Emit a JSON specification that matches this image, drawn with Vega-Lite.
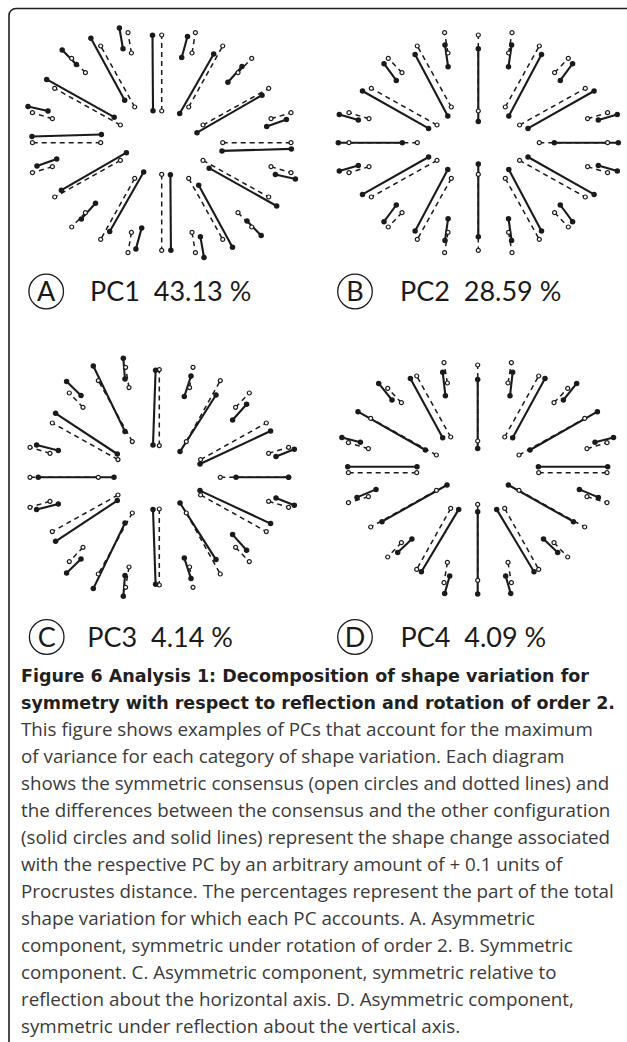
{
"$schema": "https://vega.github.io/schema/vega-lite/v6.json",
"width": 627, "height": 1042, "autosize": "none", "padding": 0, "background": "white",
"config": {"view": {"stroke": null}},
"datasets": {
"consensus": [
{"s":0,"x1":61,"y1":0,"x2":129.3,"y2":0},
{"s":15,"x1":109.3,"y1":24,"x2":129.3,"y2":30},
{"s":30,"x1":41.3,"y1":17.7,"x2":107,"y2":54.3},
{"s":45,"x1":76.3,"y1":70,"x2":90,"y2":84.3},
{"s":60,"x1":27,"y1":35.7,"x2":61,"y2":96.7},
{"s":75,"x1":30.3,"y1":89.7,"x2":33.7,"y2":110},
{"s":90,"x1":0,"y1":31.7,"x2":0,"y2":107.7},
{"s":105,"x1":-30.3,"y1":89.7,"x2":-33.7,"y2":110},
{"s":120,"x1":-27,"y1":35.7,"x2":-61,"y2":96.7},
{"s":135,"x1":-76.3,"y1":70,"x2":-90,"y2":84.3},
{"s":150,"x1":-41.3,"y1":17.7,"x2":-107,"y2":54.3},
{"s":165,"x1":-109.3,"y1":24,"x2":-129.3,"y2":30},
{"s":180,"x1":-61,"y1":0,"x2":-129.3,"y2":0},
{"s":195,"x1":-109.3,"y1":-24,"x2":-129.3,"y2":-30},
{"s":210,"x1":-41.3,"y1":-17.7,"x2":-107,"y2":-54.3},
{"s":225,"x1":-76.3,"y1":-70,"x2":-90,"y2":-84.3},
{"s":240,"x1":-27,"y1":-35.7,"x2":-61,"y2":-96.7},
{"s":255,"x1":-30.3,"y1":-89.7,"x2":-33.7,"y2":-110},
{"s":270,"x1":0,"y1":-31.7,"x2":0,"y2":-107.7},
{"s":285,"x1":30.3,"y1":-89.7,"x2":33.7,"y2":-110},
{"s":300,"x1":27,"y1":-35.7,"x2":61,"y2":-96.7},
{"s":315,"x1":76.3,"y1":-70,"x2":90,"y2":-84.3},
{"s":330,"x1":41.3,"y1":-17.7,"x2":107,"y2":-54.3},
{"s":345,"x1":109.3,"y1":-24,"x2":129.3,"y2":-30}
],
"shapes": [
{"p":"A","s":0,"x1":60.3,"y1":-8.2,"x2":129.7,"y2":-6.2},
{"p":"A","s":15,"x1":105,"y1":16.2,"x2":124.7,"y2":23.3},
{"p":"A","s":30,"x1":35.3,"y1":10,"x2":100.3,"y2":47.5},
{"p":"A","s":45,"x1":66.2,"y1":60.5,"x2":80.3,"y2":76.2},
{"p":"A","s":60,"x1":18,"y1":29.2,"x2":52,"y2":88.7},
{"p":"A","s":75,"x1":20,"y1":85.2,"x2":25.8,"y2":106.2},
{"p":"A","s":90,"x1":-8.7,"y1":32,"x2":-9.2,"y2":107.5},
{"p":"A","s":105,"x1":-38.7,"y1":94,"x2":-42.3,"y2":114.7},
{"p":"A","s":120,"x1":-37,"y1":42.5,"x2":-70.8,"y2":104.5},
{"p":"A","s":135,"x1":-85.3,"y1":78.3,"x2":-99.5,"y2":92.8},
{"p":"A","s":150,"x1":-47.5,"y1":25.5,"x2":-115,"y2":63.3},
{"p":"A","s":165,"x1":-113.7,"y1":31.7,"x2":-133.7,"y2":36.2},
{"p":"A","s":180,"x1":-60.3,"y1":8.2,"x2":-129.7,"y2":6.2},
{"p":"A","s":195,"x1":-105,"y1":-16.2,"x2":-124.7,"y2":-23.3},
{"p":"A","s":210,"x1":-35.3,"y1":-10,"x2":-100.3,"y2":-47.5},
{"p":"A","s":225,"x1":-66.2,"y1":-60.5,"x2":-80.3,"y2":-76.2},
{"p":"A","s":240,"x1":-18,"y1":-29.2,"x2":-52,"y2":-88.7},
{"p":"A","s":255,"x1":-20,"y1":-85.2,"x2":-25.8,"y2":-106.2},
{"p":"A","s":270,"x1":8.7,"y1":-32,"x2":9.2,"y2":-107.5},
{"p":"A","s":285,"x1":38.7,"y1":-94,"x2":42.3,"y2":-114.7},
{"p":"A","s":300,"x1":37,"y1":-42.5,"x2":70.8,"y2":-104.5},
{"p":"A","s":315,"x1":85.3,"y1":-78.3,"x2":99.5,"y2":-92.8},
{"p":"A","s":330,"x1":47.5,"y1":-25.5,"x2":115,"y2":-63.3},
{"p":"A","s":345,"x1":113.7,"y1":-31.7,"x2":133.7,"y2":-36.2},
{"p":"B","s":0,"x1":76,"y1":0,"x2":140,"y2":0},
{"p":"B","s":15,"x1":120,"y1":22.7,"x2":139,"y2":28.3},
{"p":"B","s":30,"x1":49.7,"y1":14.3,"x2":115.8,"y2":51.7},
{"p":"B","s":45,"x1":82,"y1":62.3,"x2":94.3,"y2":79},
{"p":"B","s":60,"x1":30.5,"y1":26.7,"x2":63.2,"y2":88.2},
{"p":"B","s":75,"x1":30.2,"y1":76,"x2":33.3,"y2":97.7},
{"p":"B","s":90,"x1":0,"y1":21.2,"x2":0,"y2":94},
{"p":"B","s":105,"x1":-30.2,"y1":76,"x2":-33.3,"y2":97.7},
{"p":"B","s":120,"x1":-30.5,"y1":26.7,"x2":-63.2,"y2":88.2},
{"p":"B","s":135,"x1":-82,"y1":62.3,"x2":-94.3,"y2":79},
{"p":"B","s":150,"x1":-49.7,"y1":14.3,"x2":-115.8,"y2":51.7},
{"p":"B","s":165,"x1":-120,"y1":22.7,"x2":-139,"y2":28.3},
{"p":"B","s":180,"x1":-76,"y1":0,"x2":-140,"y2":0},
{"p":"B","s":195,"x1":-120,"y1":-22.7,"x2":-139,"y2":-28.3},
{"p":"B","s":210,"x1":-49.7,"y1":-14.3,"x2":-115.8,"y2":-51.7},
{"p":"B","s":225,"x1":-82,"y1":-62.3,"x2":-94.3,"y2":-79},
{"p":"B","s":240,"x1":-30.5,"y1":-26.7,"x2":-63.2,"y2":-88.2},
{"p":"B","s":255,"x1":-30.2,"y1":-76,"x2":-33.3,"y2":-97.7},
{"p":"B","s":270,"x1":0,"y1":-21.2,"x2":0,"y2":-94},
{"p":"B","s":285,"x1":30.2,"y1":-76,"x2":33.3,"y2":-97.7},
{"p":"B","s":300,"x1":30.5,"y1":-26.7,"x2":63.2,"y2":-88.2},
{"p":"B","s":315,"x1":82,"y1":-62.3,"x2":94.3,"y2":-79},
{"p":"B","s":330,"x1":49.7,"y1":-14.3,"x2":115.8,"y2":-51.7},
{"p":"B","s":345,"x1":120,"y1":-22.7,"x2":139,"y2":-28.3},
{"p":"C","s":0,"x1":76.7,"y1":0,"x2":129.3,"y2":0},
{"p":"C","s":15,"x1":116.7,"y1":20.7,"x2":135,"y2":28},
{"p":"C","s":30,"x1":40.7,"y1":13.3,"x2":111.3,"y2":46.3},
{"p":"C","s":45,"x1":73.3,"y1":57.3,"x2":87.3,"y2":73},
{"p":"C","s":60,"x1":20.7,"y1":25.7,"x2":56.7,"y2":82.3},
{"p":"C","s":75,"x1":25,"y1":80.7,"x2":31.7,"y2":101.3},
{"p":"C","s":90,"x1":-6.3,"y1":32.2,"x2":-3.7,"y2":107},
{"p":"C","s":105,"x1":-34.3,"y1":98.3,"x2":-36,"y2":119},
{"p":"C","s":120,"x1":-34.3,"y1":45.7,"x2":-66,"y2":111.3},
{"p":"C","s":135,"x1":-78.3,"y1":81.7,"x2":-92.7,"y2":95.7},
{"p":"C","s":150,"x1":-42,"y1":23.3,"x2":-103.7,"y2":64},
{"p":"C","s":165,"x1":-101,"y1":26.7,"x2":-122.7,"y2":32.3},
{"p":"C","s":180,"x1":-45.3,"y1":0,"x2":-121,"y2":0},
{"p":"C","s":195,"x1":-101,"y1":-26.7,"x2":-122.7,"y2":-32.3},
{"p":"C","s":210,"x1":-42,"y1":-23.3,"x2":-103.7,"y2":-64},
{"p":"C","s":225,"x1":-78.3,"y1":-81.7,"x2":-92.7,"y2":-95.7},
{"p":"C","s":240,"x1":-34.3,"y1":-45.7,"x2":-66,"y2":-111.3},
{"p":"C","s":255,"x1":-34.3,"y1":-98.3,"x2":-36,"y2":-119},
{"p":"C","s":270,"x1":-6.3,"y1":-32.2,"x2":-3.7,"y2":-107},
{"p":"C","s":285,"x1":25,"y1":-80.7,"x2":31.7,"y2":-101.3},
{"p":"C","s":300,"x1":20.7,"y1":-25.7,"x2":56.7,"y2":-82.3},
{"p":"C","s":315,"x1":73.3,"y1":-57.3,"x2":87.3,"y2":-73},
{"p":"C","s":330,"x1":40.7,"y1":-13.3,"x2":111.3,"y2":-46.3},
{"p":"C","s":345,"x1":116.7,"y1":-20.7,"x2":135,"y2":-28},
{"p":"D","s":0,"x1":60.7,"y1":6,"x2":130,"y2":6},
{"p":"D","s":15,"x1":117.3,"y1":30.5,"x2":135.8,"y2":35.3},
{"p":"D","s":30,"x1":52.3,"y1":22.7,"x2":119.7,"y2":61},
{"p":"D","s":45,"x1":85.7,"y1":72.7,"x2":99,"y2":89.3},
{"p":"D","s":60,"x1":35,"y1":35,"x2":67.3,"y2":94.3},
{"p":"D","s":75,"x1":32.3,"y1":77,"x2":35,"y2":100.5},
{"p":"D","s":90,"x1":0,"y1":24.3,"x2":0,"y2":93.3},
{"p":"D","s":105,"x1":-32.3,"y1":77,"x2":-35,"y2":100.5},
{"p":"D","s":120,"x1":-35,"y1":35,"x2":-67.3,"y2":94.3},
{"p":"D","s":135,"x1":-85.7,"y1":72.7,"x2":-99,"y2":89.3},
{"p":"D","s":150,"x1":-52.3,"y1":22.7,"x2":-119.7,"y2":61},
{"p":"D","s":165,"x1":-117.3,"y1":30.5,"x2":-135.8,"y2":35.3},
{"p":"D","s":180,"x1":-60.7,"y1":6,"x2":-130,"y2":6},
{"p":"D","s":195,"x1":-101.7,"y1":-16.7,"x2":-120.7,"y2":-24.7},
{"p":"D","s":210,"x1":-30.7,"y1":-12.3,"x2":-95.7,"y2":-49},
{"p":"D","s":225,"x1":-65.8,"y1":-66.3,"x2":-80,"y2":-79.7},
{"p":"D","s":240,"x1":-19,"y1":-36.7,"x2":-56.3,"y2":-99},
{"p":"D","s":255,"x1":-28,"y1":-103.3,"x2":-33,"y2":-120.7},
{"p":"D","s":270,"x1":0,"y1":-39,"x2":0,"y2":-121.3},
{"p":"D","s":285,"x1":28,"y1":-103.3,"x2":33,"y2":-120.7},
{"p":"D","s":300,"x1":19,"y1":-36.7,"x2":56.3,"y2":-99},
{"p":"D","s":315,"x1":65.8,"y1":-66.3,"x2":80,"y2":-79.7},
{"p":"D","s":330,"x1":30.7,"y1":-12.3,"x2":95.7,"y2":-49},
{"p":"D","s":345,"x1":101.7,"y1":-16.7,"x2":120.7,"y2":-24.7}
],
"panelText": [
{"p":"A","letter":"A","label":"PC1\u00a0\u00a043.13\u00a0%"},
{"p":"B","letter":"B","label":"PC2\u00a0\u00a028.59\u00a0%"},
{"p":"C","letter":"C","label":"PC3\u00a0\u00a04.14\u00a0%"},
{"p":"D","letter":"D","label":"PC4\u00a0\u00a04.09\u00a0%"}
],
"caption": [
{"line":0,"part":"title","text":"Figure 6 Analysis 1: Decomposition of shape variation for"},
{"line":1,"part":"title","text":"symmetry with respect to reflection and rotation of order 2."},
{"line":2,"part":"body","text":"This figure shows examples of PCs that account for the maximum"},
{"line":3,"part":"body","text":"of variance for each category of shape variation. Each diagram"},
{"line":4,"part":"body","text":"shows the symmetric consensus (open circles and dotted lines) and"},
{"line":5,"part":"body","text":"the differences between the consensus and the other configuration"},
{"line":6,"part":"body","text":"(solid circles and solid lines) represent the shape change associated"},
{"line":7,"part":"body","text":"with the respective PC by an arbitrary amount of + 0.1 units of"},
{"line":8,"part":"body","text":"Procrustes distance. The percentages represent the part of the total"},
{"line":9,"part":"body","text":"shape variation for which each PC accounts. A. Asymmetric"},
{"line":10,"part":"body","text":"component, symmetric under rotation of order 2. B. Symmetric"},
{"line":11,"part":"body","text":"component. C. Asymmetric component, symmetric relative to"},
{"line":12,"part":"body","text":"reflection about the horizontal axis. D. Asymmetric component,"},
{"line":13,"part":"body","text":"symmetric under reflection about the vertical axis."}
]
},
"layer": [
{
"layer": [
{"data":{"name":"shapes"},"transform":[{"filter":"datum.p == 'A'"}],"mark":{"type":"rule","color":"#1a1a1a","strokeWidth":2.1},"encoding":{"x":{"field":"x1","type":"quantitative","axis":null,"scale":{"domain":[-161.7,465.3],"nice":false,"zero":false}},"y":{"field":"y1","type":"quantitative","axis":null,"scale":{"domain":[-899.3,142.7],"nice":false,"zero":false}},"x2":{"field":"x2"},"y2":{"field":"y2"}}},
{"data":{"name":"consensus"},"mark":{"type":"rule","color":"#1a1a1a","strokeWidth":1.5,"strokeDash":[5,4]},"encoding":{"x":{"field":"x1","type":"quantitative","axis":null,"scale":{"domain":[-161.7,465.3],"nice":false,"zero":false}},"y":{"field":"y1","type":"quantitative","axis":null,"scale":{"domain":[-899.3,142.7],"nice":false,"zero":false}},"x2":{"field":"x2"},"y2":{"field":"y2"}}},
{"data":{"name":"consensus"},"mark":{"type":"point","shape":"circle","size":16,"filled":true,"fill":"#ffffff","stroke":"#1a1a1a","strokeWidth":1.2,"opacity":1},"encoding":{"x":{"field":"x1","type":"quantitative","axis":null,"scale":{"domain":[-161.7,465.3],"nice":false,"zero":false}},"y":{"field":"y1","type":"quantitative","axis":null,"scale":{"domain":[-899.3,142.7],"nice":false,"zero":false}}}},
{"data":{"name":"consensus"},"mark":{"type":"point","shape":"circle","size":16,"filled":true,"fill":"#ffffff","stroke":"#1a1a1a","strokeWidth":1.2,"opacity":1},"encoding":{"x":{"field":"x2","type":"quantitative","axis":null,"scale":{"domain":[-161.7,465.3],"nice":false,"zero":false}},"y":{"field":"y2","type":"quantitative","axis":null,"scale":{"domain":[-899.3,142.7],"nice":false,"zero":false}}}},
{"data":{"name":"shapes"},"transform":[{"filter":"datum.p == 'A'"}],"mark":{"type":"point","shape":"circle","size":30,"filled":true,"color":"#1a1a1a","opacity":1},"encoding":{"x":{"field":"x1","type":"quantitative","axis":null,"scale":{"domain":[-161.7,465.3],"nice":false,"zero":false}},"y":{"field":"y1","type":"quantitative","axis":null,"scale":{"domain":[-899.3,142.7],"nice":false,"zero":false}}}},
{"data":{"name":"shapes"},"transform":[{"filter":"datum.p == 'A'"}],"mark":{"type":"point","shape":"circle","size":30,"filled":true,"color":"#1a1a1a","opacity":1},"encoding":{"x":{"field":"x2","type":"quantitative","axis":null,"scale":{"domain":[-161.7,465.3],"nice":false,"zero":false}},"y":{"field":"y2","type":"quantitative","axis":null,"scale":{"domain":[-899.3,142.7],"nice":false,"zero":false}}}},
{"data":{"name":"panelText"},"transform":[{"filter":"datum.p == 'A'"}],"mark":{"type":"point","shape":"circle","size":1195,"filled":false,"color":"#1a1a1a","strokeWidth":1.3,"opacity":1},"encoding":{"x":{"datum":-115.5,"type":"quantitative","axis":null,"scale":{"domain":[-161.7,465.3],"nice":false,"zero":false}},"y":{"datum":-148.8,"type":"quantitative","axis":null,"scale":{"domain":[-899.3,142.7],"nice":false,"zero":false}}}},
{"data":{"name":"panelText"},"transform":[{"filter":"datum.p == 'A'"}],"mark":{"type":"text","font":"Lato","fontSize":27,"align":"center","baseline":"alphabetic","color":"#1a1a1a"},"encoding":{"x":{"datum":-115.5,"type":"quantitative","axis":null,"scale":{"domain":[-161.7,465.3],"nice":false,"zero":false}},"y":{"datum":-158,"type":"quantitative","axis":null,"scale":{"domain":[-899.3,142.7],"nice":false,"zero":false}},"text":{"field":"letter","type":"nominal"}}},
{"data":{"name":"panelText"},"transform":[{"filter":"datum.p == 'A'"}],"mark":{"type":"text","font":"Lato","fontSize":27,"align":"left","baseline":"alphabetic","color":"#1a1a1a"},"encoding":{"x":{"datum":-71.7,"type":"quantitative","axis":null,"scale":{"domain":[-161.7,465.3],"nice":false,"zero":false}},"y":{"datum":-158,"type":"quantitative","axis":null,"scale":{"domain":[-899.3,142.7],"nice":false,"zero":false}},"text":{"field":"label","type":"nominal"}}}
]
},
{
"layer": [
{"data":{"name":"shapes"},"transform":[{"filter":"datum.p == 'B'"}],"mark":{"type":"rule","color":"#1a1a1a","strokeWidth":2.1},"encoding":{"x":{"field":"x1","type":"quantitative","axis":null,"scale":{"domain":[-478.3,148.7],"nice":false,"zero":false}},"y":{"field":"y1","type":"quantitative","axis":null,"scale":{"domain":[-899.3,142.7],"nice":false,"zero":false}},"x2":{"field":"x2"},"y2":{"field":"y2"}}},
{"data":{"name":"consensus"},"mark":{"type":"rule","color":"#1a1a1a","strokeWidth":1.5,"strokeDash":[5,4]},"encoding":{"x":{"field":"x1","type":"quantitative","axis":null,"scale":{"domain":[-478.3,148.7],"nice":false,"zero":false}},"y":{"field":"y1","type":"quantitative","axis":null,"scale":{"domain":[-899.3,142.7],"nice":false,"zero":false}},"x2":{"field":"x2"},"y2":{"field":"y2"}}},
{"data":{"name":"consensus"},"mark":{"type":"point","shape":"circle","size":16,"filled":true,"fill":"#ffffff","stroke":"#1a1a1a","strokeWidth":1.2,"opacity":1},"encoding":{"x":{"field":"x1","type":"quantitative","axis":null,"scale":{"domain":[-478.3,148.7],"nice":false,"zero":false}},"y":{"field":"y1","type":"quantitative","axis":null,"scale":{"domain":[-899.3,142.7],"nice":false,"zero":false}}}},
{"data":{"name":"consensus"},"mark":{"type":"point","shape":"circle","size":16,"filled":true,"fill":"#ffffff","stroke":"#1a1a1a","strokeWidth":1.2,"opacity":1},"encoding":{"x":{"field":"x2","type":"quantitative","axis":null,"scale":{"domain":[-478.3,148.7],"nice":false,"zero":false}},"y":{"field":"y2","type":"quantitative","axis":null,"scale":{"domain":[-899.3,142.7],"nice":false,"zero":false}}}},
{"data":{"name":"shapes"},"transform":[{"filter":"datum.p == 'B'"}],"mark":{"type":"point","shape":"circle","size":30,"filled":true,"color":"#1a1a1a","opacity":1},"encoding":{"x":{"field":"x1","type":"quantitative","axis":null,"scale":{"domain":[-478.3,148.7],"nice":false,"zero":false}},"y":{"field":"y1","type":"quantitative","axis":null,"scale":{"domain":[-899.3,142.7],"nice":false,"zero":false}}}},
{"data":{"name":"shapes"},"transform":[{"filter":"datum.p == 'B'"}],"mark":{"type":"point","shape":"circle","size":30,"filled":true,"color":"#1a1a1a","opacity":1},"encoding":{"x":{"field":"x2","type":"quantitative","axis":null,"scale":{"domain":[-478.3,148.7],"nice":false,"zero":false}},"y":{"field":"y2","type":"quantitative","axis":null,"scale":{"domain":[-899.3,142.7],"nice":false,"zero":false}}}},
{"data":{"name":"panelText"},"transform":[{"filter":"datum.p == 'B'"}],"mark":{"type":"point","shape":"circle","size":1195,"filled":false,"color":"#1a1a1a","strokeWidth":1.3,"opacity":1},"encoding":{"x":{"datum":-123.3,"type":"quantitative","axis":null,"scale":{"domain":[-478.3,148.7],"nice":false,"zero":false}},"y":{"datum":-148.8,"type":"quantitative","axis":null,"scale":{"domain":[-899.3,142.7],"nice":false,"zero":false}}}},
{"data":{"name":"panelText"},"transform":[{"filter":"datum.p == 'B'"}],"mark":{"type":"text","font":"Lato","fontSize":27,"align":"center","baseline":"alphabetic","color":"#1a1a1a"},"encoding":{"x":{"datum":-123.3,"type":"quantitative","axis":null,"scale":{"domain":[-478.3,148.7],"nice":false,"zero":false}},"y":{"datum":-158,"type":"quantitative","axis":null,"scale":{"domain":[-899.3,142.7],"nice":false,"zero":false}},"text":{"field":"letter","type":"nominal"}}},
{"data":{"name":"panelText"},"transform":[{"filter":"datum.p == 'B'"}],"mark":{"type":"text","font":"Lato","fontSize":27,"align":"left","baseline":"alphabetic","color":"#1a1a1a"},"encoding":{"x":{"datum":-78.3,"type":"quantitative","axis":null,"scale":{"domain":[-478.3,148.7],"nice":false,"zero":false}},"y":{"datum":-158,"type":"quantitative","axis":null,"scale":{"domain":[-899.3,142.7],"nice":false,"zero":false}},"text":{"field":"label","type":"nominal"}}}
]
},
{
"layer": [
{"data":{"name":"shapes"},"transform":[{"filter":"datum.p == 'C'"}],"mark":{"type":"rule","color":"#1a1a1a","strokeWidth":2.1},"encoding":{"x":{"field":"x1","type":"quantitative","axis":null,"scale":{"domain":[-159.3,467.7],"nice":false,"zero":false}},"y":{"field":"y1","type":"quantitative","axis":null,"scale":{"domain":[-564.7,477.3],"nice":false,"zero":false}},"x2":{"field":"x2"},"y2":{"field":"y2"}}},
{"data":{"name":"consensus"},"mark":{"type":"rule","color":"#1a1a1a","strokeWidth":1.5,"strokeDash":[5,4]},"encoding":{"x":{"field":"x1","type":"quantitative","axis":null,"scale":{"domain":[-159.3,467.7],"nice":false,"zero":false}},"y":{"field":"y1","type":"quantitative","axis":null,"scale":{"domain":[-564.7,477.3],"nice":false,"zero":false}},"x2":{"field":"x2"},"y2":{"field":"y2"}}},
{"data":{"name":"consensus"},"mark":{"type":"point","shape":"circle","size":16,"filled":true,"fill":"#ffffff","stroke":"#1a1a1a","strokeWidth":1.2,"opacity":1},"encoding":{"x":{"field":"x1","type":"quantitative","axis":null,"scale":{"domain":[-159.3,467.7],"nice":false,"zero":false}},"y":{"field":"y1","type":"quantitative","axis":null,"scale":{"domain":[-564.7,477.3],"nice":false,"zero":false}}}},
{"data":{"name":"consensus"},"mark":{"type":"point","shape":"circle","size":16,"filled":true,"fill":"#ffffff","stroke":"#1a1a1a","strokeWidth":1.2,"opacity":1},"encoding":{"x":{"field":"x2","type":"quantitative","axis":null,"scale":{"domain":[-159.3,467.7],"nice":false,"zero":false}},"y":{"field":"y2","type":"quantitative","axis":null,"scale":{"domain":[-564.7,477.3],"nice":false,"zero":false}}}},
{"data":{"name":"shapes"},"transform":[{"filter":"datum.p == 'C'"}],"mark":{"type":"point","shape":"circle","size":30,"filled":true,"color":"#1a1a1a","opacity":1},"encoding":{"x":{"field":"x1","type":"quantitative","axis":null,"scale":{"domain":[-159.3,467.7],"nice":false,"zero":false}},"y":{"field":"y1","type":"quantitative","axis":null,"scale":{"domain":[-564.7,477.3],"nice":false,"zero":false}}}},
{"data":{"name":"shapes"},"transform":[{"filter":"datum.p == 'C'"}],"mark":{"type":"point","shape":"circle","size":30,"filled":true,"color":"#1a1a1a","opacity":1},"encoding":{"x":{"field":"x2","type":"quantitative","axis":null,"scale":{"domain":[-159.3,467.7],"nice":false,"zero":false}},"y":{"field":"y2","type":"quantitative","axis":null,"scale":{"domain":[-564.7,477.3],"nice":false,"zero":false}}}},
{"data":{"name":"panelText"},"transform":[{"filter":"datum.p == 'C'"}],"mark":{"type":"point","shape":"circle","size":1195,"filled":false,"color":"#1a1a1a","strokeWidth":1.3,"opacity":1},"encoding":{"x":{"datum":-112.6,"type":"quantitative","axis":null,"scale":{"domain":[-159.3,467.7],"nice":false,"zero":false}},"y":{"datum":-159.7,"type":"quantitative","axis":null,"scale":{"domain":[-564.7,477.3],"nice":false,"zero":false}}}},
{"data":{"name":"panelText"},"transform":[{"filter":"datum.p == 'C'"}],"mark":{"type":"text","font":"Lato","fontSize":27,"align":"center","baseline":"alphabetic","color":"#1a1a1a"},"encoding":{"x":{"datum":-112.6,"type":"quantitative","axis":null,"scale":{"domain":[-159.3,467.7],"nice":false,"zero":false}},"y":{"datum":-169.7,"type":"quantitative","axis":null,"scale":{"domain":[-564.7,477.3],"nice":false,"zero":false}},"text":{"field":"letter","type":"nominal"}}},
{"data":{"name":"panelText"},"transform":[{"filter":"datum.p == 'C'"}],"mark":{"type":"text","font":"Lato","fontSize":27,"align":"left","baseline":"alphabetic","color":"#1a1a1a"},"encoding":{"x":{"datum":-72,"type":"quantitative","axis":null,"scale":{"domain":[-159.3,467.7],"nice":false,"zero":false}},"y":{"datum":-169.7,"type":"quantitative","axis":null,"scale":{"domain":[-564.7,477.3],"nice":false,"zero":false}},"text":{"field":"label","type":"nominal"}}}
]
},
{
"layer": [
{"data":{"name":"shapes"},"transform":[{"filter":"datum.p == 'D'"}],"mark":{"type":"rule","color":"#1a1a1a","strokeWidth":2.1},"encoding":{"x":{"field":"x1","type":"quantitative","axis":null,"scale":{"domain":[-477.7,149.3],"nice":false,"zero":false}},"y":{"field":"y1","type":"quantitative","axis":null,"scale":{"domain":[-569.3,472.7],"nice":false,"zero":false}},"x2":{"field":"x2"},"y2":{"field":"y2"}}},
{"data":{"name":"consensus"},"mark":{"type":"rule","color":"#1a1a1a","strokeWidth":1.5,"strokeDash":[5,4]},"encoding":{"x":{"field":"x1","type":"quantitative","axis":null,"scale":{"domain":[-477.7,149.3],"nice":false,"zero":false}},"y":{"field":"y1","type":"quantitative","axis":null,"scale":{"domain":[-569.3,472.7],"nice":false,"zero":false}},"x2":{"field":"x2"},"y2":{"field":"y2"}}},
{"data":{"name":"consensus"},"mark":{"type":"point","shape":"circle","size":16,"filled":true,"fill":"#ffffff","stroke":"#1a1a1a","strokeWidth":1.2,"opacity":1},"encoding":{"x":{"field":"x1","type":"quantitative","axis":null,"scale":{"domain":[-477.7,149.3],"nice":false,"zero":false}},"y":{"field":"y1","type":"quantitative","axis":null,"scale":{"domain":[-569.3,472.7],"nice":false,"zero":false}}}},
{"data":{"name":"consensus"},"mark":{"type":"point","shape":"circle","size":16,"filled":true,"fill":"#ffffff","stroke":"#1a1a1a","strokeWidth":1.2,"opacity":1},"encoding":{"x":{"field":"x2","type":"quantitative","axis":null,"scale":{"domain":[-477.7,149.3],"nice":false,"zero":false}},"y":{"field":"y2","type":"quantitative","axis":null,"scale":{"domain":[-569.3,472.7],"nice":false,"zero":false}}}},
{"data":{"name":"shapes"},"transform":[{"filter":"datum.p == 'D'"}],"mark":{"type":"point","shape":"circle","size":30,"filled":true,"color":"#1a1a1a","opacity":1},"encoding":{"x":{"field":"x1","type":"quantitative","axis":null,"scale":{"domain":[-477.7,149.3],"nice":false,"zero":false}},"y":{"field":"y1","type":"quantitative","axis":null,"scale":{"domain":[-569.3,472.7],"nice":false,"zero":false}}}},
{"data":{"name":"shapes"},"transform":[{"filter":"datum.p == 'D'"}],"mark":{"type":"point","shape":"circle","size":30,"filled":true,"color":"#1a1a1a","opacity":1},"encoding":{"x":{"field":"x2","type":"quantitative","axis":null,"scale":{"domain":[-477.7,149.3],"nice":false,"zero":false}},"y":{"field":"y2","type":"quantitative","axis":null,"scale":{"domain":[-569.3,472.7],"nice":false,"zero":false}}}},
{"data":{"name":"panelText"},"transform":[{"filter":"datum.p == 'D'"}],"mark":{"type":"point","shape":"circle","size":1195,"filled":false,"color":"#1a1a1a","strokeWidth":1.3,"opacity":1},"encoding":{"x":{"datum":-122.7,"type":"quantitative","axis":null,"scale":{"domain":[-477.7,149.3],"nice":false,"zero":false}},"y":{"datum":-164.3,"type":"quantitative","axis":null,"scale":{"domain":[-569.3,472.7],"nice":false,"zero":false}}}},
{"data":{"name":"panelText"},"transform":[{"filter":"datum.p == 'D'"}],"mark":{"type":"text","font":"Lato","fontSize":27,"align":"center","baseline":"alphabetic","color":"#1a1a1a"},"encoding":{"x":{"datum":-122.7,"type":"quantitative","axis":null,"scale":{"domain":[-477.7,149.3],"nice":false,"zero":false}},"y":{"datum":-174.3,"type":"quantitative","axis":null,"scale":{"domain":[-569.3,472.7],"nice":false,"zero":false}},"text":{"field":"letter","type":"nominal"}}},
{"data":{"name":"panelText"},"transform":[{"filter":"datum.p == 'D'"}],"mark":{"type":"text","font":"Lato","fontSize":27,"align":"left","baseline":"alphabetic","color":"#1a1a1a"},"encoding":{"x":{"datum":-77.2,"type":"quantitative","axis":null,"scale":{"domain":[-477.7,149.3],"nice":false,"zero":false}},"y":{"datum":-174.3,"type":"quantitative","axis":null,"scale":{"domain":[-569.3,472.7],"nice":false,"zero":false}},"text":{"field":"label","type":"nominal"}}}
]
},
{
"data": {"name":"caption"},
"encoding": {
"y": {"field":"line","type":"quantitative","axis":null,"scale":{"domain":[0,13],"range":[682,1033]}},
"x": {"value":21},
"text": {"field":"text","type":"nominal"}
},
"layer": [
{"transform":[{"filter":"datum.part == 'title'"}],"mark":{"type":"text","align":"left","baseline":"alphabetic","font":"DejaVu Sans","fontWeight":"bold","fontSize":17.5,"color":"#231f20"}},
{"transform":[{"filter":"datum.part == 'body'"}],"mark":{"type":"text","align":"left","baseline":"alphabetic","font":"Open Sans","fontSize":18.8,"color":"#3a3a3a"}}
]
},
{
"data": {"values":[{"frame":"figure"}]},
"mark": {"type":"rect","filled":false,"color":"#231f20","strokeWidth":1.6,"cornerRadius":7},
"encoding": {"x":{"value":9},"x2":{"value":633},"y":{"value":8.5},"y2":{"value":1100}}
}
],
"resolve": {"scale": {"x":"independent","y":"independent"}}
}
